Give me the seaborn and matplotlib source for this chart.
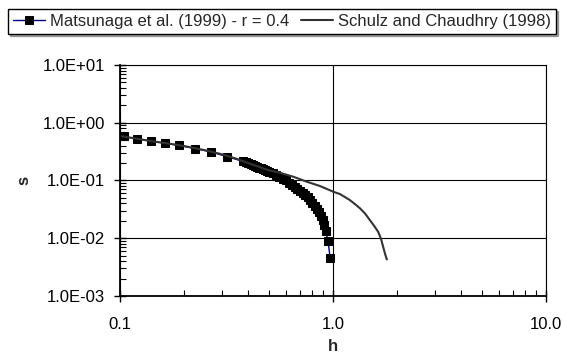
import pandas as pd
import seaborn as sns
import matplotlib.pyplot as plt
from matplotlib.ticker import FuncFormatter, LogLocator, NullFormatter

# Matsunaga et al. (1999), r = 0.4
h_mats = [0.104, 0.120, 0.140, 0.163, 0.190, 0.225, 0.268, 0.317,
          0.38, 0.39, 0.40, 0.41, 0.42, 0.43, 0.44, 0.45, 0.46, 0.47, 0.48, 0.49,
          0.50, 0.52, 0.54, 0.56, 0.58, 0.60, 0.62, 0.64, 0.66, 0.68, 0.70, 0.72,
          0.74, 0.76, 0.78, 0.80, 0.82, 0.84, 0.86, 0.88, 0.90, 0.91, 0.924, 0.948, 0.969]
s_mats = [0.578, 0.527, 0.480, 0.443, 0.404, 0.358, 0.313, 0.259,
          0.214, 0.207, 0.200, 0.193, 0.186, 0.179, 0.173, 0.167, 0.162, 0.157, 0.152, 0.147,
          0.143, 0.135, 0.127, 0.117, 0.107, 0.100, 0.092, 0.085, 0.078, 0.072, 0.066, 0.061,
          0.056, 0.051, 0.046, 0.041, 0.036, 0.032, 0.028, 0.024, 0.0206, 0.017, 0.0132, 0.0089, 0.0046]

# Schulz and Chaudhry (1998)
h_schulz = [0.097, 0.12, 0.14, 0.17, 0.20, 0.25, 0.30, 0.35, 0.40, 0.45, 0.50, 0.564,
            0.652, 0.753, 0.869, 1.004, 1.079, 1.20, 1.268, 1.34, 1.413, 1.49, 1.556,
            1.63, 1.679, 1.72, 1.754, 1.79]
s_schulz = [0.60, 0.53, 0.48, 0.435, 0.395, 0.335, 0.285, 0.24, 0.20, 0.172, 0.150, 0.136,
            0.116, 0.0953, 0.0802, 0.0638, 0.0582, 0.0458, 0.0390, 0.0329, 0.0269, 0.0206, 0.0166,
            0.0129, 0.00987, 0.0071, 0.00542, 0.0043]

sns.set_style('white')
plt.rcParams['font.family'] = ['Liberation Sans', 'DejaVu Sans']

fig = plt.figure(figsize=(5.64, 3.6), dpi=100)
ax = fig.add_axes([120 / 564, 1 - 296 / 360, 426 / 564, 231 / 360])

sns.lineplot(x=h_mats, y=s_mats, ax=ax, color='#000080', lw=1, marker='s',
             markersize=5.5, markerfacecolor='black', markeredgecolor='black',
             label='Matsunaga et al. (1999) - r = 0.4')
sns.lineplot(x=h_schulz, y=s_schulz, ax=ax, color='#333333', lw=1.5,
             label='Schulz and Chaudhry (1998)')

ax.set_xscale('log')
ax.set_yscale('log')
ax.set_xlim(0.1, 10)
ax.set_ylim(1e-3, 10)

ax.yaxis.set_major_formatter(FuncFormatter(lambda v, p: '{:.1E}'.format(v)))
ax.xaxis.set_major_formatter(FuncFormatter(lambda v, p: '{:.1f}'.format(v)))
ax.xaxis.set_minor_locator(LogLocator(base=10, subs=range(2, 10)))
ax.yaxis.set_minor_locator(LogLocator(base=10, subs=range(2, 10)))
ax.xaxis.set_minor_formatter(NullFormatter())
ax.yaxis.set_minor_formatter(NullFormatter())

ax.tick_params(which='major', direction='inout', length=8, width=1, color='black',
               labelsize=12, labelcolor='black')
ax.tick_params(axis='y', which='major', pad=7)
ax.tick_params(axis='x', which='major', pad=11)
ax.tick_params(which='minor', direction='in', length=4, width=0.8, color='black')
ax.tick_params(axis='both', which='both', left=True, bottom=True)

ax.grid(True, which='major', color='black', lw=0.8)
for side in ['top', 'right']:
    ax.spines[side].set_color('black')
    ax.spines[side].set_linewidth(0.8)
for side in ['left', 'bottom']:
    ax.spines[side].set_color('black')
    ax.spines[side].set_linewidth(1.3)

ax.set_xlabel('h', fontsize=12, fontweight='bold', labelpad=5)
ax.set_ylabel('s', fontsize=12, fontweight='bold', labelpad=8)

handles, labels = ax.get_legend_handles_labels()
ax.get_legend().remove()
fig.legend(handles, labels, loc='upper left', bbox_to_anchor=(8 / 564, 1 - 9 / 360),
           ncol=2, fontsize=12, frameon=True, fancybox=False, borderaxespad=0,
           edgecolor='black', shadow={'ox': 1.5, 'oy': -1.5, 'color': '#555555'},
           borderpad=0.3, handlelength=1.9, handletextpad=0.3, columnspacing=0.75)

plt.savefig('out.png', dpi=100)
